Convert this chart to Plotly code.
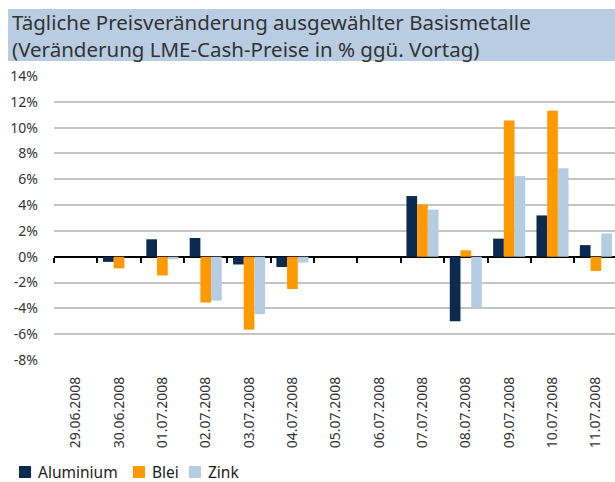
import plotly.graph_objects as go

dates = ["29.06.2008", "30.06.2008", "01.07.2008", "02.07.2008", "03.07.2008",
         "04.07.2008", "05.07.2008", "06.07.2008", "07.07.2008", "08.07.2008",
         "09.07.2008", "10.07.2008", "11.07.2008"]
aluminium = [0, -0.4, 1.35, 1.45, -0.6, -0.8, 0, 0, 4.7, -5.0, 1.4, 3.2, 0.9]
blei = [0, -0.9, -1.45, -3.55, -5.65, -2.5, 0, 0, 4.05, 0.5, 10.55, 11.3, -1.1]
zink = [0, 0, -0.2, -3.4, -4.45, -0.45, 0, 0, 3.65, -3.9, 6.25, 6.85, 1.8]

series_names = ["Aluminium", "Blei", "Zink"]
series_colors = ["#0b2a52", "#ff9900", "#b5cde3"]

y_ticks = [-8, -6, -4, -2, 0, 2, 4, 6, 8, 10, 12, 14]
y_labels = ["-8%", "-6%", "-4%", "-2%", "0%", "2%", "4%", "6%", "8%", "10%", "12%", "14%"]

title_lines = ["Tägliche Preisveränderung ausgewählter Basismetalle",
               "(Veränderung LME-Cash-Preise in % ggü. Vortag)"]

W, H = 615, 482
ml, mr, mt, mb = 54, 0, 76, 122
ph = H - mt - mb
pw = W - ml - mr


def px_x(x):
    return (x - ml) / pw


def px_y(y):
    return (mt + ph - y) / ph


font = "Noto Sans"
fig = go.Figure()
for name, vals, col in zip(series_names, [aluminium, blei, zink], series_colors):
    fig.add_bar(name=name, x=dates, y=vals, marker_color=col, marker_line_width=0)
# invisible helper carrying the zero-line tick axis
fig.add_scatter(x=[0], y=[0], xaxis="x2", mode="markers", opacity=0,
                showlegend=False, hoverinfo="skip")

ymin, ymax = -8, 14
zero_frac = (0 - ymin) / (ymax - ymin)
xmax = -0.5 + pw / 43.35

fig.update_layout(
    width=W, height=H,
    margin=dict(l=ml, r=mr, t=mt, b=mb, pad=0),
    paper_bgcolor="white", plot_bgcolor="white",
    barmode="group", bargap=0.26, bargroupgap=0,
    font=dict(family=font, color="#333333"),
    showlegend=False,
    xaxis=dict(type="category", range=[-0.5, xmax], showgrid=False, showline=False,
               ticks="", tickangle=-90, tickfont=dict(size=14, color="#333333"),
               ticklabelstandoff=13),
    xaxis2=dict(overlaying="x", anchor="free", position=zero_frac, range=[-0.5, xmax],
                showgrid=False, zeroline=False, showline=False, showticklabels=False,
                tickmode="array", tickvals=[i - 0.5 for i in range(14)],
                ticks="outside", ticklen=5, tickwidth=2, tickcolor="black"),
    yaxis=dict(range=[ymin, ymax], tickmode="array", tickvals=y_ticks, ticktext=y_labels,
               showgrid=True, gridcolor="#c4c4c4", gridwidth=1.5,
               zeroline=True, zerolinecolor="black", zerolinewidth=2,
               showline=False, ticks="", ticklabelstandoff=15,
               tickfont=dict(size=14, color="#333333")),
)

# title banner
fig.add_shape(type="rect", xref="paper", yref="paper",
              x0=px_x(8), x1=1.0, y0=px_y(61), y1=px_y(9),
              fillcolor="#b8cde2", line_width=0, layer="below")
fig.add_annotation(text="<br>".join(title_lines), xref="paper", yref="paper",
                   x=px_x(10), xanchor="left", align="left",
                   y=px_y(36), yanchor="middle",
                   showarrow=False, font=dict(size=20.5, color="#333333", family=font))

# legend (swatch + label)
legend_x = [19, 133, 189]
for name, col, lx in zip(series_names, series_colors, legend_x):
    fig.add_shape(type="rect", xref="paper", yref="paper",
                  x0=px_x(lx), x1=px_x(lx + 12), y0=px_y(478), y1=px_y(466),
                  fillcolor=col, line_width=0)
    fig.add_annotation(text=name, xref="paper", yref="paper",
                       x=px_x(lx + 17), xanchor="left", y=px_y(472), yanchor="middle",
                       showarrow=False, font=dict(size=15.5, color="#222222", family=font))

fig.write_html("out.html", config={"displayModeBar": False},
               post_script="document.body.style.margin='0px';")
